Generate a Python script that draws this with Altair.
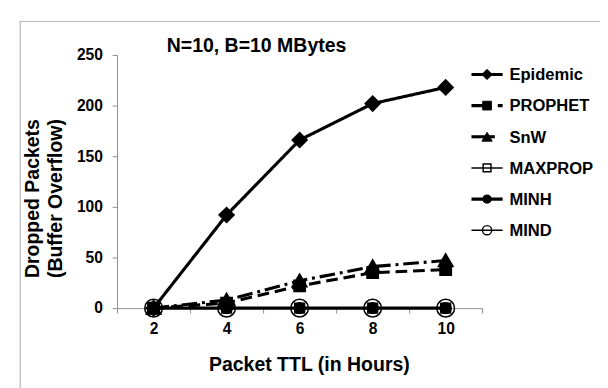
import altair as alt
import pandas as pd

ttl = [2, 4, 6, 8, 10]
series_names = ["Epidemic", "PROPHET", "SnW", "MAXPROP", "MINH", "MIND"]
epidemic = [0, 92, 166, 202, 218]
prophet = [0, 5, 22, 35, 38]
snw = [0, 8, 27, 41, 47]
maxprop = [0, 0, 0, 0, 0]
minh = [0, 0, 0, 0, 0]
mind = [0, 0, 0, 0, 0]
y_ticks = [0, 50, 100, 150, 200, 250]
chart_title = "N=10, B=10 MBytes"

all_values = [epidemic, prophet, snw, maxprop, minh, mind]
rows = []
for name, vals in zip(series_names, all_values):
    for t, v in zip(ttl, vals):
        rows.append({"series": name, "ttl": t, "value": v})
df = pd.DataFrame(rows)
legend_df = pd.DataFrame({"series": series_names})

FONT = "Liberation Sans"

# styles
dash_range = [[1, 0], [12, 6], [16, 5, 3, 5], [1, 0], [1, 0], [1, 0]]
width_range = [3.2, 3.2, 3.2, 1.5, 3.2, 1.5]
shape_range = ["diamond", "square", "triangle-up", "square", "circle", "circle"]
fill_range = ["black", "black", "black", "transparent", "black", "transparent"]
size_range = [170, 100, 150, 100, 90, 330]
pstroke_range = [1, 1, 1, 1.5, 1, 1.5]
leg_dash_range = [[1, 0], [14, 13, 6, 30], [24, 40], [1, 0], [1, 0], [1, 0]]
leg_size_range = [110, 80, 110, 64, 70, 90]

x_enc = alt.X(
    "ttl:O",
    scale=alt.Scale(type="band", paddingInner=0, paddingOuter=0),
    axis=alt.Axis(
        title="Packet TTL (in Hours)", labelAngle=0, tickBand="extent",
        titleX=197, titleY=64, titleBaseline="alphabetic", titleFontSize=20,
        labelPadding=8,
    ),
)
y_enc = alt.Y(
    "value:Q",
    scale=alt.Scale(domain=[0, 250], nice=False),
    axis=alt.Axis(
        values=y_ticks, title=["Dropped Packets", "(Buffer Overflow)"],
        titleX=-81, titleY=147, titleBaseline="alphabetic", titleAngle=270,
        titleAlign="center", titleLineHeight=24, titleFontSize=20, labelPadding=10,
    ),
)

base = alt.Chart(df)
one = alt.Chart(pd.DataFrame({"a": [0]}))

frame_v = one.mark_rect(fill="#a6a6a6").encode(
    x=alt.value(-100), x2=alt.value(-99), y=alt.value(-35), y2=alt.value(400)
)
frame_h = one.mark_rect(fill="#a6a6a6").encode(
    x=alt.value(-100), x2=alt.value(700), y=alt.value(-35), y2=alt.value(-34)
)
title_text = one.mark_text(
    align="left", baseline="alphabetic", font=FONT, fontSize=20, fontWeight="bold", color="black"
).encode(x=alt.value(51), y=alt.value(-3), text=alt.value(chart_title))

lines = base.mark_line(color="black").encode(
    x=x_enc, y=y_enc, detail="series:N",
    strokeDash=alt.StrokeDash("series:N", scale=alt.Scale(domain=series_names, range=dash_range), legend=None),
    strokeWidth=alt.StrokeWidth("series:N", scale=alt.Scale(type="ordinal", domain=series_names, range=width_range), legend=None),
)

points = base.mark_point(stroke="black", opacity=1).encode(
    x=x_enc, y=y_enc,
    shape=alt.Shape("series:N", scale=alt.Scale(domain=series_names, range=shape_range), legend=None),
    fill=alt.Fill("series:N", scale=alt.Scale(domain=series_names, range=fill_range), legend=None),
    size=alt.Size("series:N", scale=alt.Scale(type="ordinal", domain=series_names, range=size_range), legend=None),
    strokeWidth=alt.StrokeWidth("series:N", scale=alt.Scale(type="ordinal", domain=series_names, range=pstroke_range), legend=None),
)

main = alt.layer(lines, points)

# manual legend (rows on a point scale)
ly = alt.Y("series:N", scale=alt.Scale(type="point", domain=series_names, range=[20, 180], padding=0), axis=None)
lbase = alt.Chart(legend_df)
leg_lines = lbase.mark_rule(color="black").encode(
    x=alt.value(364), x2=alt.value(396), y=ly,
    strokeDash=alt.StrokeDash("series:N", scale=alt.Scale(domain=series_names, range=leg_dash_range), legend=None),
    strokeWidth=alt.StrokeWidth("series:N", scale=alt.Scale(type="ordinal", domain=series_names, range=width_range), legend=None),
)
leg_points = lbase.mark_point(stroke="black", opacity=1).encode(
    x=alt.value(380), y=ly,
    shape=alt.Shape("series:N", scale=alt.Scale(domain=series_names, range=shape_range), legend=None),
    fill=alt.Fill("series:N", scale=alt.Scale(domain=series_names, range=fill_range), legend=None),
    size=alt.Size("series:N", scale=alt.Scale(type="ordinal", domain=series_names, range=leg_size_range), legend=None),
    strokeWidth=alt.StrokeWidth("series:N", scale=alt.Scale(type="ordinal", domain=series_names, range=pstroke_range), legend=None),
)
leg_text = lbase.mark_text(
    align="left", baseline="middle", font=FONT, fontSize=17, fontWeight="bold", color="black", dy=1
).encode(x=alt.value(403), y=ly, text="series:N")
legend = alt.layer(leg_lines, leg_points, leg_text).resolve_scale(strokeWidth="independent")

chart = alt.layer(frame_v, frame_h, title_text, main, legend).resolve_scale(
    y="independent", strokeDash="independent", size="independent", strokeWidth="independent"
).properties(
    width=375, height=260,
    autosize="none",
    padding={"left": 112, "top": 43, "right": 121, "bottom": 85},
).configure_view(stroke=None).configure_axis(
    grid=False, domainColor="#8c8c8c", tickColor="#8c8c8c", tickSize=5,
    labelFont=FONT, labelFontSize=16, labelFontWeight="bold", labelColor="black",
    titleFont=FONT, titleFontWeight="bold", titleColor="black",
)

chart.save("out.html", embed_options={"renderer": "svg", "actions": False})
